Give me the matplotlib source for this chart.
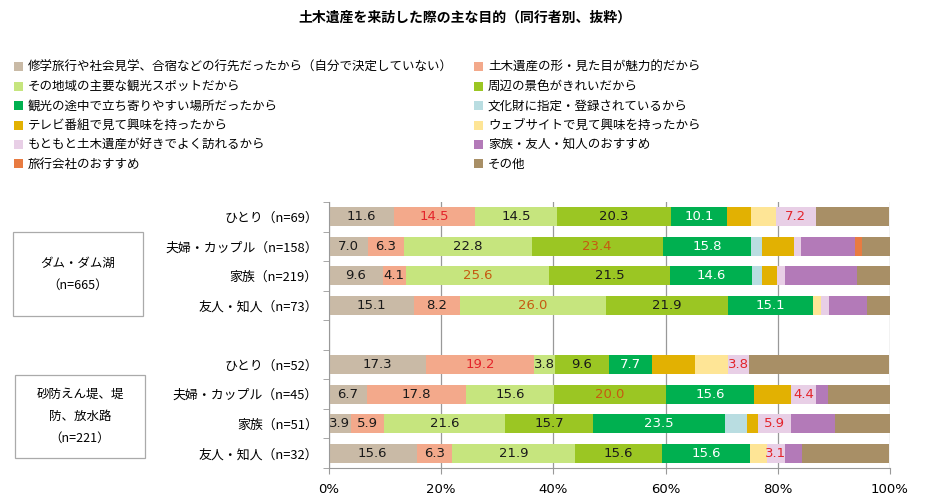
import matplotlib.pyplot as plt
from matplotlib.patches import Rectangle

plt.rcParams['font.family'] = ['Noto Sans CJK JP', 'DejaVu Sans']

# =========================
# Data
# =========================

TITLE = "土木遺産を来訪した際の主な目的（同行者別、抜粋）"

CATEGORIES = [
    "修学旅行や社会見学、合宿などの行先だったから（自分で決定していない）",
    "土木遺産の形・見た目が魅力的だから",
    "その地域の主要な観光スポットだから",
    "周辺の景色がきれいだから",
    "観光の途中で立ち寄りやすい場所だったから",
    "文化財に指定・登録されているから",
    "テレビ番組で見て興味を持ったから",
    "ウェブサイトで見て興味を持ったから",
    "もともと土木遺産が好きでよく訪れるから",
    "家族・友人・知人のおすすめ",
    "旅行会社のおすすめ",
    "その他",
]

COLORS = ["#c9baa6", "#f3a98b", "#c6e57e", "#9bc623", "#00b050", "#b9dde1",
          "#e2b102", "#fee596", "#e8cfe6", "#b37ab8", "#e87b41", "#a88f66"]

ROW_LABELS = ["ひとり（n=69）", "夫婦・カップル（n=158）", "家族（n=219）", "友人・知人（n=73）",
              "ひとり（n=52）", "夫婦・カップル（n=45）", "家族（n=51）", "友人・知人（n=32）"]

GROUP_LABELS = ["ダム・ダム湖\n（n=665）", "砂防えん堤、堤\n防、放水路\n（n=221）"]

# one list per category, one value per row (%)
shuugaku = [11.6, 7.0, 9.6, 15.1, 17.3, 6.7, 3.9, 15.6]
katachi = [14.5, 6.3, 4.1, 8.2, 19.2, 17.8, 5.9, 6.3]
kankou_spot = [14.5, 22.8, 25.6, 26.0, 3.8, 15.6, 21.6, 21.9]
keshiki = [20.3, 23.4, 21.5, 21.9, 9.6, 20.0, 15.7, 15.6]
tochuu = [10.1, 15.8, 14.6, 15.1, 7.7, 15.6, 23.5, 15.6]
bunkazai = [0.0, 1.9, 1.8, 0.0, 0.0, 0.0, 3.9, 0.0]
tv = [4.3, 5.7, 2.7, 0.0, 7.7, 6.7, 2.0, 0.0]
web = [4.3, 0.0, 0.0, 1.4, 5.8, 0.0, 0.0, 3.1]
motomoto = [7.2, 1.3, 1.4, 1.4, 3.8, 4.4, 5.9, 3.1]
osusume = [0.0, 9.5, 12.8, 6.8, 0.0, 2.2, 7.8, 3.1]
ryokou = [0.0, 1.3, 0.0, 0.0, 0.0, 0.0, 0.0, 0.0]
sonota = [13.0, 5.0, 5.9, 4.1, 25.0, 11.1, 9.8, 15.6]

SERIES = [shuugaku, katachi, kankou_spot, keshiki, tochuu, bunkazai,
          tv, web, motomoto, osusume, ryokou, sonota]

# (row, category) cells marked in the original
HIGH_RED = {(0, 1), (0, 8), (4, 1), (4, 8), (5, 8), (6, 8), (7, 8)}
HIGH_ORANGE = {(1, 3), (2, 2), (3, 2), (5, 3)}

XTICKS = [0, 20, 40, 60, 80, 100]

# slot positions (slot 4 is the gap between the two groups)
Y_POS = [0, 1, 2, 3, 5, 6, 7, 8]


def main():
    fig = plt.figure(figsize=(9.3, 5.04), dpi=100)
    ax = fig.add_axes([329 / 930, 1 - 468 / 504, 561 / 930, 266 / 504])

    lefts = [0.0] * len(Y_POS)
    for ci, vals in enumerate(SERIES):
        ax.barh(Y_POS, vals, left=lefts, height=0.65, color=COLORS[ci], linewidth=0)
        for ri, v in enumerate(vals):
            red = (ri, ci) in HIGH_RED
            orange = (ri, ci) in HIGH_ORANGE
            if v > 0 and (ci < 5 or red or orange):
                if red:
                    tc = "#e3242b"
                elif orange:
                    tc = "#c55a11"
                elif ci == 4:
                    tc = "white"
                else:
                    tc = "#1a1a1a"
                ax.text(lefts[ri] + v / 2, Y_POS[ri], f"{v:.1f}", ha="center", va="center",
                        fontsize=9.5, color=tc, family="DejaVu Sans")
            lefts[ri] += v

    ax.set_xlim(0, 100)
    ax.set_ylim(8.5, -0.5)
    ax.set_xticks(XTICKS)
    ax.set_xticklabels([f"{t}%" for t in XTICKS], fontsize=9.5, family="DejaVu Sans")
    ax.set_yticks(Y_POS)
    ax.set_yticklabels(ROW_LABELS, fontsize=9.3)
    ax.tick_params(axis="y", length=0, pad=8)
    ax.set_yticks([y - 0.5 for y in range(10)], minor=True)
    ax.tick_params(axis="y", which="minor", length=4, color="#999999", direction="out")
    ax.tick_params(axis="x", length=4, color="#999999", pad=7)
    ax.xaxis.grid(True, color="#999999", linewidth=0.9)
    ax.set_axisbelow(True)
    for side in ["top", "right"]:
        ax.spines[side].set_visible(False)
    for side in ["left", "bottom"]:
        ax.spines[side].set_color("#999999")

    # group boxes
    boxes = [(13, 232, 130, 84), (15, 375, 130, 83)]
    for (bx, by, bw, bh), label in zip(boxes, GROUP_LABELS):
        fig.patches.append(Rectangle((bx / 930, 1 - (by + bh) / 504), bw / 930, bh / 504,
                                     transform=fig.transFigure, facecolor="white",
                                     edgecolor="#aaaaaa", linewidth=0.9))
        fig.text((bx + bw / 2) / 930, 1 - (by + bh / 2) / 504, label, ha="center", va="center",
                 fontsize=9, linespacing=1.9)

    # legend, drawn by hand in two columns
    for i, (name, col) in enumerate(zip(CATEGORIES, COLORS)):
        cx = 14 if i % 2 == 0 else 474
        cy = 67 + 19.4 * (i // 2)
        fig.patches.append(Rectangle((cx / 930, 1 - (cy + 4.5) / 504), 9 / 930, 9 / 504,
                                     transform=fig.transFigure, facecolor=col, linewidth=0))
        fig.text((cx + 14) / 930, 1 - cy / 504, name, ha="left", va="center", fontsize=9)

    fig.text(0.5, 1 - 18 / 504, TITLE, ha="center", va="center", fontsize=10, fontweight="bold")

    fig.savefig("out.png", dpi=100)


if __name__ == "__main__":
    main()
